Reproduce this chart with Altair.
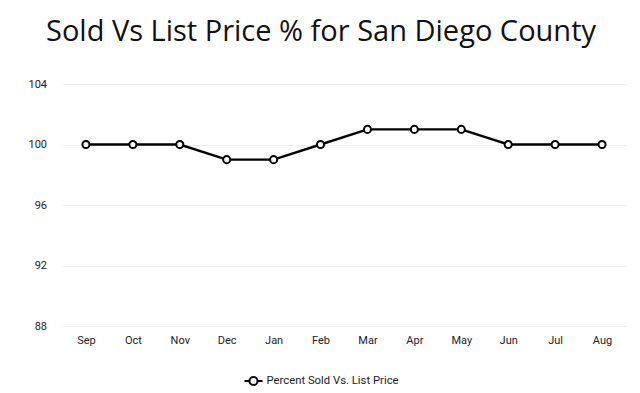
import altair as alt
import pandas as pd

months = ["Sep", "Oct", "Nov", "Dec", "Jan", "Feb", "Mar", "Apr", "May", "Jun", "Jul", "Aug"]
values = [100, 100, 100, 99, 99, 100, 101, 101, 101, 100, 100, 100]
series_name = "Percent Sold Vs. List Price"
y_ticks = [88, 92, 96, 100, 104]

df = pd.DataFrame({"Month": months, "Value": values, "Series": [series_name] * len(months)})

x = alt.X("Month:N", sort=months, title=None,
          scale=alt.Scale(paddingInner=0, paddingOuter=0.5),
          axis=alt.Axis(labelAngle=0, domain=False, ticks=False, grid=False,
                        labelFont="Roboto", labelFontSize=11, labelColor="#222222",
                        labelPadding=8))
y = alt.Y("Value:Q", title=None,
          scale=alt.Scale(domain=[88, 104], nice=False, zero=False),
          axis=alt.Axis(values=y_ticks, domain=False, ticks=False, grid=True,
                        gridColor="#efefef", gridWidth=1,
                        labelFont="Roboto", labelFontSize=11, labelColor="#222222",
                        labelPadding=16))

legend_path = ("M-1,0L-0.45,0 M0.45,0 A0.45,0.45 0 1,1 -0.45,0 "
               "A0.45,0.45 0 1,1 0.45,0 M0.45,0 L1,0")

line = alt.Chart(df).mark_line(strokeWidth=2.4).encode(
    x=x, y=y,
    color=alt.Color("Series:N", scale=alt.Scale(range=["#000000"]),
                    legend=alt.Legend(title=None, orient="none", legendX=181, legendY=287,
                                      symbolType=legend_path, symbolSize=324,
                                      symbolFillColor="white", symbolStrokeColor="black",
                                      symbolStrokeWidth=2,
                                      labelFont="Roboto", labelFontSize=11.3,
                                      labelColor="#222222", labelOffset=3))
)
points = alt.Chart(df).mark_point(filled=True, fill="white", stroke="black",
                                  strokeWidth=2, size=50, opacity=1).encode(x=x, y=y)

chart = alt.layer(line, points).properties(
    width=563, height=242,
    title=alt.Title("Sold Vs List Price % for San Diego County", font="Open Sans",
                    fontSize=29, fontWeight="normal", color="#111111",
                    anchor="middle", dx=-23, offset=31),
    autosize=alt.AutoSizeParams(type="none"),
    padding={"left": 54.5, "top": 76, "right": 6, "bottom": 67},
).configure_view(stroke=None)

chart.save("out.html", embed_options={"renderer": "svg", "actions": False})
